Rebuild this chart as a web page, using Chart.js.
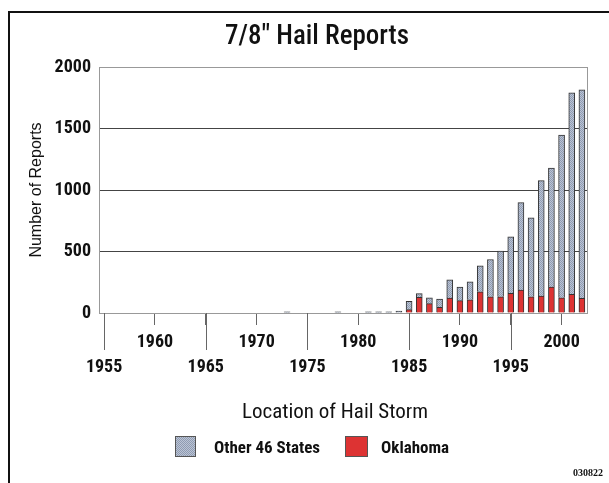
<!DOCTYPE html>
<html>
<head>
<meta charset="utf-8">
<script src="https://cdn.jsdelivr.net/npm/chart.js@4.4.1/dist/chart.umd.min.js"></script>
<style>
  html, body { margin: 0; padding: 0; background: #fff; }
  #page { position: relative; width: 609px; height: 483px; overflow: hidden; font-family: Roboto, 'Open Sans', sans-serif; font-stretch: condensed; color: #111; }
  #frame { position: absolute; left: 8px; top: 11px; width: 620px; height: 500px; border-left: 2px solid #111; border-top: 2px solid #111; }
  canvas { position: absolute; left: 0; top: 0; }
  .txt { position: absolute; white-space: nowrap; }
  #title { left: 0; width: 634px; text-align: center; top: 18px; font-size: 27px; line-height: 34px; font-weight: 500; }
  #xtitle { left: 0; width: 670px; text-align: center; top: 398px; font-size: 21px; line-height: 26px; }
  .sw { position: absolute; top: 436px; width: 21px; height: 21px; border: 1px solid #555; box-sizing: border-box; }
  #sw1 { left: 175px; background-color: #a5b0c3; background-image: conic-gradient(#8f9bb2 25%, #bcc5d5 0 50%, #8f9bb2 0 75%, #bcc5d5 0); background-size: 2px 2px; }
  #sw2 { left: 345px; width: 23px; background: #dd3333; }
  .lg { top: 437px; font-size: 17px; line-height: 20px; font-weight: bold; }
  #note { right: 6px; top: 467px; font-family: 'Liberation Serif', serif; font-stretch: normal; font-size: 10px; font-weight: bold; }
</style>
</head>
<body>
<div id="page">
  <canvas id="hail" width="609" height="483"></canvas>
  <div id="frame"></div>
  <div class="txt" id="title">7/8" Hail Reports</div>
  <div class="txt" id="xtitle">Location of Hail Storm</div>
  <div class="sw" id="sw1"></div>
  <div class="txt lg" style="left:214px">Other 46 States</div>
  <div class="sw" id="sw2"></div>
  <div class="txt lg" style="left:381px">Oklahoma</div>
  <div class="txt" id="note">030822</div>
</div>
<script>
// years 1955 - 2002
const years = [];
for (let y = 1955; y <= 2002; y++) years.push(y);

// Oklahoma reports per year
const oklahoma = [
  0, 0, 0, 0, 0, 0, 0, 0, 0, 0,     // 1955-1964
  0, 0, 0, 0, 0, 0, 0, 0, 0, 0,     // 1965-1974
  0, 0, 0, 0, 0, 0, 0, 0, 0, 0,     // 1975-1984
  27, 127, 76, 46, 122, 100, 108, 173, 132, 132,   // 1985-1994
  160, 187, 132, 138, 211, 124, 151, 119           // 1995-2002
];
// other 46 states reports per year
const others = [
  0, 0, 0, 0, 0, 0, 0, 0, 0, 0,     // 1955-1964
  0, 0, 0, 0, 0, 0, 0, 0, 10, 0,    // 1965-1974
  0, 0, 0, 10, 0, 0, 10, 10, 10, 16, // 1975-1984
  68, 30, 48, 68, 148, 111, 146, 211, 303, 371,    // 1985-1994
  459, 710, 641, 938, 967, 1322, 1638, 1695        // 1995-2002
];
const yTicks = [0, 500, 1000, 1500, 2000];

// condensed face goes in through the weight slot of the canvas font string
const FONT = "Roboto, 'Open Sans', sans-serif";

// stippled grey fill like the original
function stipple() {
  const c = document.createElement('canvas');
  c.width = 2; c.height = 2;
  const g = c.getContext('2d');
  g.fillStyle = '#bcc5d5'; g.fillRect(0, 0, 2, 2);
  g.fillStyle = '#8f9bb2'; g.fillRect(0, 0, 1, 1); g.fillRect(1, 1, 1, 1);
  return g.createPattern(c, 'repeat');
}

// long ticks for 1955, 1965 ... and right edge of the plot
const axisExtras = {
  id: 'axisExtras',
  afterDraw(chart) {
    const { ctx, chartArea, scales } = chart;
    ctx.save();
    ctx.lineWidth = 1;
    ctx.strokeStyle = '#666';
    years.forEach((yr, i) => {
      if (yr % 5 === 0 && yr % 10 !== 0) {
        const x = Math.round(scales.x.getPixelForValue(i)) + 0.5;
        ctx.beginPath();
        ctx.moveTo(x, chartArea.bottom);
        ctx.lineTo(x, chartArea.bottom + 37);
        ctx.stroke();
      }
    });
    ctx.strokeStyle = '#999';
    ctx.beginPath();
    ctx.moveTo(Math.round(chartArea.right) + 0.5, chartArea.top);
    ctx.lineTo(Math.round(chartArea.right) + 0.5, chartArea.bottom);
    ctx.stroke();
    ctx.restore();
  }
};

new Chart(document.getElementById('hail').getContext('2d'), {
  type: 'bar',
  data: {
    labels: years,
    datasets: [{
      label: 'Oklahoma',
      data: oklahoma,
      backgroundColor: '#dd3333',
      borderColor: '#333',
      borderWidth: 1,
      barThickness: 6
    }, {
      label: 'Other 46 States',
      data: others,
      backgroundColor: stipple(),
      borderColor: '#333',
      borderWidth: 1,
      barThickness: 6
    }]
  },
  options: {
    responsive: false,
    animation: false,
    layout: { padding: { left: 10, right: 22, top: 67, bottom: 100 } },
    plugins: {
      legend: { display: false },
      title: { display: false },
      tooltip: { enabled: false }
    },
    scales: {
      x: {
        stacked: true,
        offset: true,
        afterFit: (s) => { s.height = 70; },
        border: { color: '#999' },
        grid: {
          offset: false,
          drawOnChartArea: false,
          tickLength: 12,
          color: (c) => (years[c.index] % 5 === 0 ? '#666' : 'rgba(0,0,0,0)')
        },
        ticks: {
          autoSkip: false,
          maxRotation: 0,
          padding: 5,
          color: '#111',
          font: { family: FONT, size: 18, weight: 'bold condensed', lineHeight: 25 / 18 },
          callback: (v, i) => {
            const yr = years[i];
            if (yr % 10 === 0) return String(yr);
            if (yr % 5 === 0) return ['', String(yr)];
            return '';
          }
        }
      },
      y: {
        stacked: true,
        min: 0,
        max: 2000,
        afterFit: (s) => { s.width = 89; },
        afterBuildTicks: (s) => { s.ticks = yTicks.map(v => ({ value: v })); },
        border: { color: '#999' },
        grid: {
          drawTicks: false,
          color: (c) => (c.tick.value === 0 || c.tick.value === 2000 ? '#999' : '#444')
        },
        ticks: {
          padding: 8,
          color: '#111',
          font: { family: FONT, size: 18, weight: 'bold condensed' },
          callback: (v) => String(v)
        },
        title: {
          display: true,
          text: 'Number of Reports',
          color: '#111',
          padding: { top: 17, bottom: 0 },
          font: { family: "'Liberation Sans', Arial, sans-serif", size: 16 }
        }
      }
    }
  },
  plugins: [axisExtras]
});
</script>
</body>
</html>
